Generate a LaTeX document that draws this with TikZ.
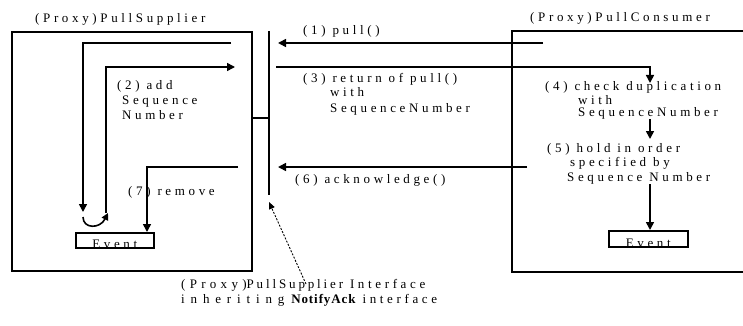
\documentclass[tikz,border=0pt]{standalone}
\usepackage{fontspec}
\setmainfont{Liberation Serif}[LetterSpace=28]
\newcommand{\trk}[1]{\addfontfeatures{LetterSpace=#1}}
\usetikzlibrary{arrows.meta}
\begin{document}
\begin{tikzpicture}[x=1pt,y=-1pt,
  wire/.style={line width=1.6pt},
  arr/.style={wire,-{Triangle[length=8pt,width=8pt]}},
  frame/.style={draw,line width=1.8pt},
  lbl/.style={anchor=base west,inner sep=0pt,font=\fontsize{13}{15}\selectfont},
  evbox/.style={draw,line width=1.6pt,inner sep=0pt,anchor=north west}]
\useasboundingbox (0,0) rectangle (743,326);

% supplier side
\node[frame,anchor=north west,minimum width=240pt,minimum height=239pt,inner sep=0pt] (sup) at (11,31) {};
\node[lbl] (suptitle) at (35,23) {(Proxy)PullSupplier};
\node[evbox,minimum width=78pt,minimum height=15pt] (ev1) at (75,232) {};
\begin{scope}
  \clip (ev1.south west) rectangle (ev1.north east);
  \node[lbl,anchor=base] (ev1txt) at ([yshift=0.5pt]ev1.south) {Event};
\end{scope}

% consumer side (open to the right)
\coordinate (conNE) at (748,31);
\coordinate (conNW) at (512,31);
\coordinate (conSW) at (512,272);
\coordinate (conSE) at (748,272);
\draw[wire,line width=1.8pt] (conNE) -- (conNW) -- (conSW) -- (conSE);
\node[lbl] (contitle) at (530,22) {(Proxy)PullConsumer};
\node[evbox,minimum width=79pt,minimum height=16pt] (ev2) at (608,230) {};
\begin{scope}
  \clip (ev2.south west) rectangle (ev2.north east);
  \node[lbl,anchor=base] (ev2txt) at ([yshift=0.5pt]ev2.south) {Event};
\end{scope}

% interface bar
\coordinate (ifTop) at (269,31);
\coordinate (ifBot) at (269,195);
\coordinate (ifMid) at (269,118);
\draw[wire] (ifTop) -- (ifBot);
\draw[wire] (sup.east |- ifMid) -- (ifMid);

% (1) pull()
\coordinate (pullS) at (543,43);
\coordinate (pullE) at (278,43);
\draw[arr] (pullS) -- (pullE);
\node[lbl] (l1) at (303,35) {(1) pull()};

% supplier internals
\coordinate (inS) at (231,43);
\coordinate (inE) at (83,212);
\draw[arr] (inS) -| (inE);
\coordinate (seqS) at (106,213);
\coordinate (seqE) at (235,67);
\draw[arr] (seqS) |- (seqE);
\coordinate (loopS) at (83,217);
\coordinate (loopE) at (108,213);
\draw[wire,-{Triangle[length=7pt,width=7pt]}] (loopS) .. controls (83,229) and (100,229) .. (loopE);
\node[lbl] (l2a) at (117,89) {(2) add};
\node[lbl] (l2b) at (122,104) {Sequence};
\node[lbl] (l2c) at (122,119) {Number};
\coordinate (rmS) at (238,167);
\draw[arr] (rmS) -| (ev1.north -| 147,0);
\node[lbl] (l7) at (128,195) {(7) remove};

% (3) return of pull()
\coordinate (retS) at (276,67);
\coordinate (retE) at (650,83);
\draw[arr] (retS) -| (retE);
\node[lbl] (l3a) at (303,83) {(3) return of pull()};
\node[lbl] (l3b) at (330,97) {with};
\node[lbl] (l3c) at (330,113) {SequenceNumber};

% consumer internals
\node[lbl] (l4a) at (545,91) {(4) check duplication};
\node[lbl] (l4b) at (578,104) {with};
\node[lbl] (l4c) at (578,117) {SequenceNumber};
\coordinate (chkS) at (650,119);
\coordinate (chkE) at (650,139);
\draw[arr] (chkS) -- (chkE);
\node[lbl] (l5a) at (547,152) {(5) hold in order};
\node[lbl] (l5b) at (570,166) {specified by};
\node[lbl] (l5c) at (567,181) {Sequence Number};
\coordinate (holdS) at (650,184);
\draw[arr] (holdS) -- (ev2.north -| holdS);

% (6) acknowledge()
\coordinate (ackS) at (527,167);
\coordinate (ackE) at (278,167);
\draw[arr] (ackS) -- (ackE);
\node[lbl] (l6) at (295,183) {(6) acknowledge()};

% interface note
\node[lbl,align=left] (note) at (181,303)
  {{\trk{33}(Proxy)}{\trk{22}PullSupplier} Interface\\
   {\trk{45}inheriting} {\trk{7}\bfseries NotifyAck} interface};
\coordinate (noteTip) at (306,284);
\coordinate (noteEnd) at (269,202);
\draw[line width=0.9pt,dash pattern=on 2pt off 1.5pt,-{Triangle[length=7pt,width=6pt]}] (noteTip) -- (noteEnd);
\end{tikzpicture}
\end{document}
